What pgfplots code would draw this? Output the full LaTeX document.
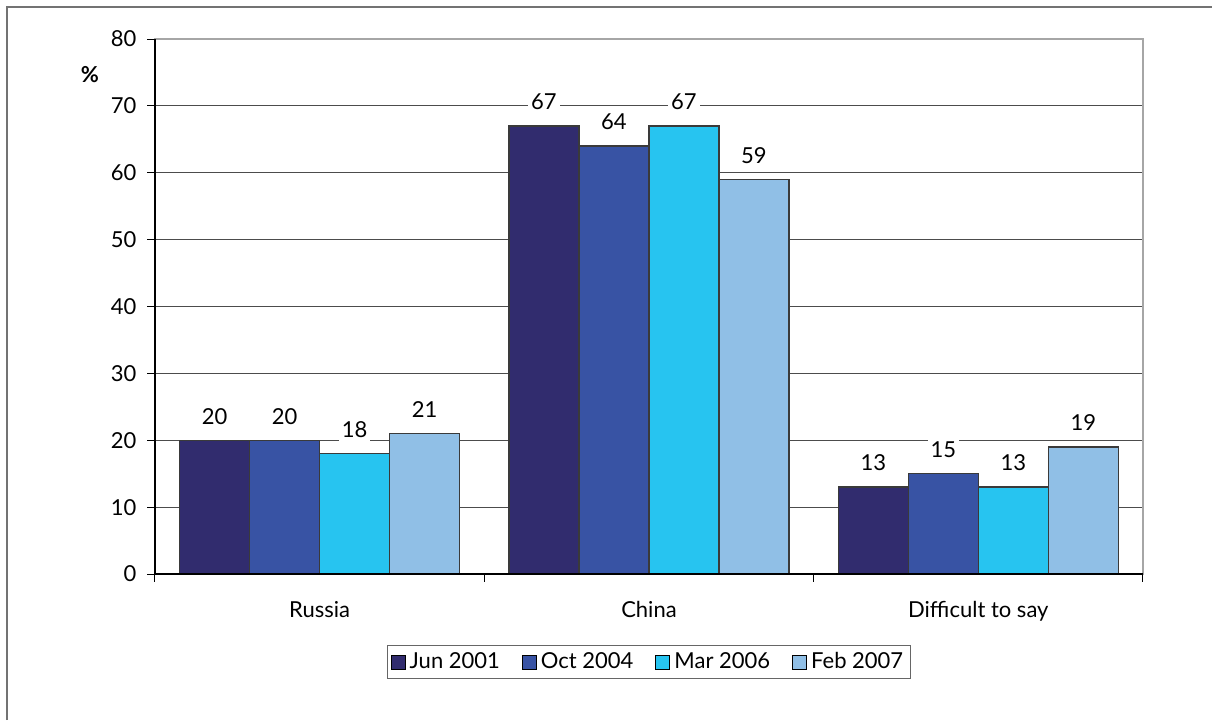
\documentclass[border=0pt]{standalone}
\usepackage{pgfplots}
\pgfplotsset{compat=1.18}
\usepackage{fontspec}
\setmainfont{Lato}
\definecolor{cJun}{HTML}{312C6E}
\definecolor{cOct}{HTML}{3853A4}
\definecolor{cMar}{HTML}{27C4F0}
\definecolor{cFeb}{HTML}{90BFE6}
\definecolor{edge}{HTML}{3A3A3A}
\definecolor{spine}{HTML}{A6A6A6}

\begin{document}
\begin{tikzpicture}[font=\fontsize{11pt}{13pt}\selectfont]
\useasboundingbox (-77.5pt,-73pt) rectangle (528.5pt,287pt);
\draw[black!55, line width=0.9pt] (-74pt,-73pt) -- (-74pt,283.5pt) -- (528.5pt,283.5pt);
\begin{axis}[
    at={(0,0)}, anchor=south west,
    scale only axis,
    clip mode=individual,
    width=494pt, height=267.5pt,
    ymin=0, ymax=80,
    xmin=-0.5, xmax=2.5,
    ytick={0,10,...,80},
    xtick={-0.5,0.5,1.5,2.5},
    xticklabels={},
    extra x ticks={0,1,2},
    extra x tick labels={Russia,China,Difficult to say},
    extra x tick style={major tick length=0pt, grid=none,
        xticklabel style={yshift=-10pt}},
    xtick pos=bottom, ytick pos=left,
    tick align=outside,
    major tick length=3.75pt,
    tick style={black, line width=0.5pt},
    ymajorgrids=true,
    grid style={color=black!70, line width=0.5pt},
    axis line style={spine, line width=0.9pt},
    yticklabel style={xshift=-2pt},
    /pgf/number format/assume math mode=true,
    ybar=0pt,
    bar width=35pt,
    nodes near coords,
    every node near coord/.append style={fill=white, inner sep=1.5pt,
        anchor=center, yshift=12pt, text=black},
    legend style={at={(0.5,0)}, anchor=north, yshift=-35.5pt,
        draw=black!60, line width=0.6pt, legend columns=-1,
        inner sep=1.5pt,
        /tikz/every even column/.append style={column sep=9pt}},
    legend image code/.code={\draw[#1, draw=black, line width=0.5pt]
        (0pt,-3.5pt) rectangle (7pt,3.5pt);},
]
\addplot[fill=cJun, draw=edge, line width=0.75pt] coordinates {(0,20) (1,67) (2,13)};
\addplot[fill=cOct, draw=edge, line width=0.75pt] coordinates {(0,20) (1,64) (2,15)};
\addplot[fill=cMar, draw=edge, line width=0.75pt] coordinates {(0,18) (1,67) (2,13)};
\addplot[fill=cFeb, draw=edge, line width=0.75pt] coordinates {(0,21) (1,59) (2,19)};
\legend{Jun 2001, Oct 2004, Mar 2006, Feb 2007}
\draw[black, line width=0.6pt] (rel axis cs:0,1) -- (rel axis cs:0,0) -- (rel axis cs:1,0);
\node[font=\bfseries\fontsize{11pt}{13pt}\selectfont, anchor=center]
    at (rel axis cs:0,0.933) [xshift=-32.5pt] {\%};
\end{axis}
\end{tikzpicture}
\end{document}
